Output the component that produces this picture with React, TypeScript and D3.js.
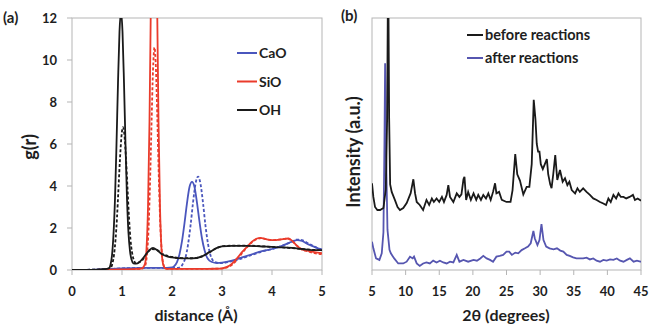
import React from "react";
import * as d3 from "d3";

// ---------- (a) radial distribution functions g(r) ----------
const gTicksY = [0, 2, 4, 6, 8, 10, 12];
const gTicksX = [0, 1, 2, 3, 4, 5];

const caoSolid: [number, number][] = [
  [0, 0], [0.5, 0.02], [0.8, 0.05], [1.0, 0.08], [1.5, 0.1], [1.9, 0.1], [2.0, 0.12], [2.05, 0.2],
  [2.1, 0.38], [2.15, 0.75], [2.2, 1.37], [2.25, 2.23], [2.3, 3.19], [2.35, 3.95], [2.4, 4.2],
  [2.45, 3.95], [2.5, 3.2], [2.55, 2.3], [2.6, 1.5], [2.65, 0.95], [2.7, 0.6], [2.75, 0.45],
  [2.8, 0.38], [2.9, 0.33], [3.0, 0.35], [3.2, 0.45], [3.4, 0.6], [3.6, 0.75], [3.8, 0.9],
  [4.0, 1.0], [4.2, 1.15], [4.4, 1.35], [4.5, 1.42], [4.6, 1.38], [4.7, 1.25], [4.8, 1.15],
  [4.9, 1.05], [5.0, 0.95],
];
const caoDashed: [number, number][] = [
  [0, 0], [0.5, 0.02], [0.8, 0.05], [1.0, 0.08], [1.5, 0.1], [2.0, 0.1], [2.1, 0.1], [2.17, 0.15],
  [2.22, 0.3], [2.27, 0.6], [2.32, 1.2], [2.37, 2.1], [2.42, 3.2], [2.47, 4.1], [2.52, 4.45],
  [2.57, 4.1], [2.62, 3.2], [2.67, 2.1], [2.72, 1.25], [2.77, 0.7], [2.82, 0.45], [2.9, 0.35],
  [3.0, 0.33], [3.2, 0.42], [3.4, 0.55], [3.6, 0.72], [3.8, 0.88], [4.0, 1.0], [4.2, 1.15],
  [4.4, 1.35], [4.5, 1.45], [4.6, 1.42], [4.7, 1.3], [4.8, 1.18], [4.9, 1.05], [5.0, 0.98],
];
const sioSolid: [number, number][] = [
  [0, 0], [0.5, 0.01], [1.0, 0.03], [1.3, 0.05], [1.4, 0.08], [1.46, 0.3], [1.49, 1.0], [1.52, 3.0],
  [1.55, 7.1], [1.58, 13.3], [1.61, 19.4], [1.64, 22], [1.67, 19.4], [1.7, 13.3], [1.73, 7.1],
  [1.76, 3.0], [1.79, 1.0], [1.82, 0.3], [1.86, 0.08], [1.9, 0.05], [2.5, 0.05], [2.9, 0.06],
  [3.0, 0.08], [3.1, 0.15], [3.2, 0.3], [3.3, 0.55], [3.4, 0.85], [3.5, 1.1], [3.6, 1.35],
  [3.7, 1.5], [3.77, 1.53], [3.85, 1.48], [3.95, 1.43], [4.05, 1.42], [4.15, 1.45], [4.25, 1.48],
  [4.33, 1.5], [4.4, 1.4], [4.5, 1.15], [4.6, 0.98], [4.7, 0.92], [4.85, 0.85], [5.0, 0.8],
];
const sioDashed: [number, number][] = [
  [0, 0], [0.5, 0.01], [1.0, 0.03], [1.3, 0.05], [1.42, 0.08], [1.47, 0.25], [1.5, 0.75], [1.53, 1.9],
  [1.56, 4.1], [1.59, 6.9], [1.62, 9.5], [1.65, 10.6], [1.68, 9.5], [1.71, 6.9], [1.74, 4.1],
  [1.77, 1.9], [1.8, 0.75], [1.83, 0.25], [1.87, 0.08], [1.95, 0.05], [2.5, 0.05], [3.0, 0.07],
  [3.1, 0.12], [3.2, 0.25], [3.3, 0.48], [3.4, 0.8], [3.5, 1.08], [3.6, 1.32], [3.7, 1.47],
  [3.78, 1.52], [3.88, 1.47], [4.0, 1.42], [4.1, 1.44], [4.2, 1.46], [4.3, 1.5], [4.38, 1.42],
  [4.48, 1.2], [4.58, 1.0], [4.7, 0.9], [4.85, 0.8], [5.0, 0.75],
];
const ohSolid: [number, number][] = [
  [0, 0], [0.5, 0.02], [0.7, 0.05], [0.74, 0.08], [0.77, 0.25], [0.8, 0.7], [0.83, 1.7], [0.86, 3.4],
  [0.89, 6.0], [0.92, 8.9], [0.95, 11.35], [0.98, 12.3], [1.01, 11.35], [1.04, 8.9], [1.07, 6.0],
  [1.1, 3.4], [1.13, 1.75], [1.16, 0.9], [1.19, 0.5], [1.23, 0.32], [1.28, 0.3], [1.35, 0.38],
  [1.45, 0.65], [1.55, 0.95], [1.62, 1.05], [1.7, 0.95], [1.8, 0.75], [1.9, 0.65], [2.0, 0.6],
  [2.2, 0.55], [2.4, 0.55], [2.6, 0.65], [2.75, 0.85], [2.9, 1.05], [3.0, 1.12], [3.2, 1.15],
  [3.5, 1.15], [3.8, 1.12], [4.0, 1.1], [4.2, 1.08], [4.4, 1.05], [4.6, 1.0], [4.8, 0.95], [5.0, 0.95],
];
const ohDashed: [number, number][] = [
  [0, 0], [0.5, 0.02], [0.7, 0.05], [0.78, 0.13], [0.81, 0.32], [0.84, 0.72], [0.87, 1.43], [0.9, 2.5],
  [0.93, 3.9], [0.96, 5.3], [0.99, 6.39], [1.02, 6.8], [1.05, 6.39], [1.08, 5.3], [1.11, 3.9],
  [1.14, 2.5], [1.17, 1.45], [1.2, 0.85], [1.24, 0.45], [1.28, 0.32], [1.33, 0.35], [1.4, 0.45],
  [1.5, 0.8], [1.6, 1.0], [1.7, 0.95], [1.8, 0.78], [1.9, 0.68], [2.0, 0.62], [2.2, 0.57],
  [2.4, 0.56], [2.6, 0.65], [2.75, 0.85], [2.9, 1.05], [3.0, 1.13], [3.2, 1.16], [3.5, 1.16],
  [3.8, 1.13], [4.0, 1.1], [4.2, 1.08], [4.4, 1.04], [4.6, 1.0], [4.8, 0.96], [5.0, 0.94],
];
const gLegend = ["CaO", "SiO", "OH"];

// ---------- (b) XRD patterns ----------
const xrdTicksX = [5, 10, 15, 20, 25, 30, 35, 40, 45];

const beforeReactions: [number, number][] = [
  [5.0, 34.4], [5.2, 29], [5.45, 25], [5.8, 23.8], [6.2, 23.8], [6.7, 24.6], [7.05, 32], [7.25, 60],
  [7.4, 125], [7.55, 60], [7.7, 34], [7.93, 31], [8.4, 27.8], [8.8, 25], [9.16, 23.8], [9.65, 24.6],
  [10.16, 26.6], [10.75, 30.5], [11.0, 34], [11.15, 36], [11.4, 30.5], [11.65, 27], [12.1, 25.8],
  [12.6, 23.8], [13.1, 27.8], [13.5, 25.8], [13.9, 28.4], [14.2, 27], [14.6, 28.4], [15.0, 27],
  [15.4, 29], [15.7, 27], [16.1, 29.8], [16.35, 33.7], [16.6, 29], [17.1, 27], [17.6, 30.4],
  [18.0, 29], [18.3, 30], [18.6, 36], [18.75, 37], [19.0, 27.8], [19.3, 31], [19.7, 27.8],
  [20.1, 30.4], [20.5, 27.8], [20.8, 29.8], [21.2, 27.8], [21.55, 29.8], [21.95, 28.4], [22.3, 30.4],
  [22.65, 27.8], [23.0, 31], [23.3, 34.4], [23.5, 30.4], [23.9, 31], [24.3, 27.8], [25.0, 27],
  [25.6, 27], [25.9, 31.7], [26.3, 46], [26.6, 38], [27.0, 35.5], [27.5, 30], [28.0, 33], [28.4, 33],
  [28.75, 42], [29.05, 67.5], [29.3, 60], [29.5, 50], [29.7, 47], [29.9, 47], [30.1, 42], [30.4, 40],
  [30.7, 42], [31.0, 44], [31.2, 38], [31.5, 34], [31.7, 32.5], [31.95, 38], [32.25, 45.6],
  [32.55, 35.7], [32.95, 39.7], [33.35, 35], [33.7, 36.4], [34.05, 33.7], [34.35, 35], [34.7, 31.7],
  [35.2, 30.4], [35.55, 32.4], [35.9, 31], [36.4, 32.4], [36.9, 31], [37.4, 29.8], [37.9, 28.4],
  [38.4, 27.8], [38.9, 27], [39.4, 26.4], [39.8, 25.8], [40.15, 28.4], [40.5, 27], [40.9, 29.8],
  [41.3, 28.4], [41.65, 30.4], [42.0, 29], [42.4, 29], [42.8, 28.4], [43.3, 29], [43.8, 29.8],
  [44.1, 27.8], [44.5, 28.4], [44.85, 27.8], [45.0, 27.5],
];
const afterReactions: [number, number][] = [
  [5.0, 11.2], [5.2, 8.6], [5.6, 4.6], [6.1, 4.0], [6.45, 6.6], [6.7, 15], [6.85, 50], [6.95, 82],
  [7.1, 45], [7.3, 16], [7.6, 8], [7.8, 6.6], [8.3, 4.6], [8.9, 2.6], [9.65, 2.6], [10.15, 3.3],
  [10.65, 5.3], [11.05, 4.6], [11.25, 5.3], [11.65, 2.6], [12.1, 1.6], [12.6, 2.6], [13.1, 3.0],
  [13.6, 2.6], [14.1, 3.7], [14.6, 3.0], [15.1, 3.7], [15.6, 3.0], [16.1, 2.6], [16.6, 3.3],
  [17.1, 3.0], [17.6, 6.0], [18.0, 3.3], [18.6, 4.0], [19.3, 3.3], [20.1, 4.0], [20.6, 3.7],
  [21.1, 4.6], [21.55, 5.6], [22.05, 4.6], [22.55, 4.0], [23.0, 3.3], [23.5, 5.3], [24.0, 5.6],
  [24.5, 6.0], [25.0, 7.3], [25.4, 7.3], [25.8, 6.0], [26.3, 6.9], [26.75, 6.6], [27.25, 7.9],
  [27.75, 8.6], [28.2, 9.3], [28.6, 10.6], [29.0, 15.5], [29.2, 12.6], [29.6, 9.9], [29.9, 11.9],
  [30.2, 18.2], [30.5, 11.9], [30.9, 9.3], [31.4, 8.6], [32.0, 8.2], [32.5, 8.6], [33.0, 7.7],
  [33.45, 7.3], [33.95, 6.0], [34.4, 5.6], [34.9, 5.0], [35.4, 4.6], [35.9, 4.6], [36.4, 4.6],
  [36.9, 4.9], [37.4, 4.2], [37.9, 4.6], [38.4, 3.7], [38.9, 3.3], [39.4, 4.0], [39.9, 3.7],
  [40.4, 4.2], [40.9, 4.0], [41.4, 4.6], [41.9, 3.7], [42.4, 3.3], [42.9, 4.0], [43.35, 4.6],
  [43.9, 3.3], [44.4, 3.7], [44.9, 3.3], [45.0, 3.3],
];
const xrdLegend = ["before reactions", "after reactions"];

const BLUE = "#4a56bd";
const RED = "#ea3b2b";
const BLACK = "#1a1a1a";
const XRD_BLUE = "#5656b0";
const FRAME = "#b5b5b5";
const TEXT = "#1e1e1e";
const FONT = "Lato, 'Open Sans', sans-serif";

export default function App() {
  // panel (a)
  const ax = d3.scaleLinear().domain([0, 5]).range([72, 322]);
  const ay = d3.scaleLinear().domain([0, 12]).range([270, 18]);
  const gLine = d3
    .line<[number, number]>()
    .x((d) => ax(d[0]))
    .y((d) => ay(d[1]))
    .curve(d3.curveMonotoneX);

  // panel (b)
  const bx = d3.scaleLinear().domain([5, 45]).range([372, 641]);
  const by = d3.scaleLinear().domain([0, 100]).range([270, 18]);
  const xrdLine = d3
    .line<[number, number]>()
    .x((d) => bx(d[0]))
    .y((d) => by(d[1]));

  const gSeries = [
    { data: caoDashed, color: BLUE, dash: "3,2" },
    { data: sioDashed, color: RED, dash: "3,2" },
    { data: ohDashed, color: BLACK, dash: "3,2" },
    { data: caoSolid, color: BLUE, dash: undefined },
    { data: sioSolid, color: RED, dash: undefined },
    { data: ohSolid, color: BLACK, dash: undefined },
  ];
  const gLegendColors = [BLUE, RED, BLACK];
  const xrdLegendColors = [BLACK, XRD_BLUE];

  return (
    <svg
      width={649}
      height={324}
      style={{ position: "absolute", left: 0, top: 0, background: "#fff" }}
      fontFamily={FONT}
      fontWeight={700}
    >
      <defs>
        <clipPath id="clipA">
          <rect x={72} y={18} width={250} height={252} />
        </clipPath>
        <clipPath id="clipB">
          <rect x={372} y={18} width={269} height={252} />
        </clipPath>
      </defs>

      {/* ---- panel (a) ---- */}
      <rect x={72} y={18} width={250} height={252} fill="none" stroke={FRAME} strokeWidth={1} />
      {gTicksY.map((t) => (
        <g key={"ay" + t}>
          <line x1={67} x2={72} y1={ay(t)} y2={ay(t)} stroke={FRAME} />
          <text x={57} y={ay(t)} dy="0.36em" textAnchor="end" fontSize={13} fill={TEXT}>
            {t}
          </text>
        </g>
      ))}
      {gTicksX.map((t) => (
        <g key={"ax" + t}>
          <line x1={ax(t)} x2={ax(t)} y1={270} y2={275} stroke={FRAME} />
          <text x={ax(t)} y={291} dy="0.36em" textAnchor="middle" fontSize={13} fill={TEXT}>
            {t}
          </text>
        </g>
      ))}
      <g clipPath="url(#clipA)">
        {gSeries.map((s, i) => (
          <path
            key={"g" + i}
            d={gLine(s.data) || ""}
            fill="none"
            stroke={s.color}
            strokeWidth={1.8}
            strokeDasharray={s.dash}
          />
        ))}
      </g>
      {gLegend.map((name, i) => (
        <g key={name}>
          <line x1={237} x2={257} y1={53 + i * 28.5} y2={53 + i * 28.5} stroke={gLegendColors[i]} strokeWidth={2} />
          <text x={259} y={53 + i * 28.5} dy="0.36em" fontSize={14} fill={TEXT}>
            {name}
          </text>
        </g>
      ))}
      <text x={3} y={18} dy="0.36em" fontSize={15} fill={TEXT}>
        (a)
      </text>
      <text
        transform="translate(30,147) rotate(-90)"
        textAnchor="middle"
        dy="0.36em"
        fontSize={18}
        fill={TEXT}
      >
        g(r)
      </text>
      <text x={196} y={315} dy="0.36em" textAnchor="middle" fontSize={16} fill={TEXT}>
        distance (Å)
      </text>

      {/* ---- panel (b) ---- */}
      <rect x={372} y={18} width={269} height={252} fill="none" stroke={FRAME} strokeWidth={1} />
      {xrdTicksX.map((t) => (
        <g key={"bx" + t}>
          <line x1={bx(t)} x2={bx(t)} y1={270} y2={275} stroke={FRAME} />
          <text x={bx(t)} y={291} dy="0.36em" textAnchor="middle" fontSize={13} fill={TEXT}>
            {t}
          </text>
        </g>
      ))}
      <g clipPath="url(#clipB)">
        <path d={xrdLine(afterReactions) || ""} fill="none" stroke={XRD_BLUE} strokeWidth={1.8} />
        <path d={xrdLine(beforeReactions) || ""} fill="none" stroke={BLACK} strokeWidth={1.8} />
      </g>
      {xrdLegend.map((name, i) => (
        <g key={name}>
          <line x1={467} x2={483} y1={35 + i * 23} y2={35 + i * 23} stroke={xrdLegendColors[i]} strokeWidth={2} />
          <text x={485} y={35 + i * 23} dy="0.36em" fontSize={14.5} fill={TEXT}>
            {name}
          </text>
        </g>
      ))}
      <text x={341} y={16} dy="0.36em" fontSize={15} fill={TEXT}>
        (b)
      </text>
      <text
        transform="translate(354,152) rotate(-90)"
        textAnchor="middle"
        dy="0.36em"
        fontSize={18}
        fill={TEXT}
      >
        Intensity (a.u.)
      </text>
      <text x={506} y={315} dy="0.36em" textAnchor="middle" fontSize={16} fill={TEXT}>
        2θ (degrees)
      </text>
    </svg>
  );
}
